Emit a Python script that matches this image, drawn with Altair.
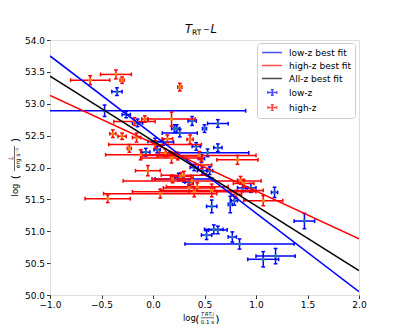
import altair as alt
import pandas as pd

# ---------------- data ----------------
low_x = [-0.47, -0.35, -0.26, -0.15, 0.02, -0.07, 0.04, 0.10, 0.21, 0.23, 0.26, 0.38, 0.50, 0.63,
         0.42, 0.53, 0.63, 0.25, 0.30, 0.35, 0.40, 0.48, 0.55, 0.57, 0.75, 0.79, 0.87, 0.95,
         1.18, 1.47, 0.52, 0.59, 0.63, 0.77, 0.84, 1.07, 1.19, 0.47]
low_y = [52.89, 53.19, 52.83, 52.70, 52.41, 52.24, 52.28, 52.40, 52.61, 52.61, 52.54, 52.73, 52.61, 52.69,
         52.33, 52.23, 52.31, 51.85, 51.82, 51.77, 52.00, 51.95, 51.95, 51.39, 51.42, 51.48, 51.68, 51.68,
         51.61, 51.16, 50.94, 51.03, 51.02, 50.91, 50.80, 50.56, 50.61, 52.14]
low_xerr = [1.37, 0.05, 0.04, 0.05, 0.07, 0.04, 0.03, 0.10, 0.03, 0.03, 0.17, 0.04, 0.02, 0.10,
            0.04, 0.40, 0.04, 0.04, 0.28, 0.04, 0.04, 0.05, 0.03, 0.05, 0.02, 0.03, 0.05, 0.05,
            0.03, 0.10, 0.05, 0.09, 0.09, 0.04, 0.53, 0.15, 0.19, 0.03]
low_yerr = [0.09, 0.06, 0.05, 0.06, 0.05, 0.06, 0.05, 0.05, 0.06, 0.06, 0.06, 0.07, 0.06, 0.06,
            0.06, 0.06, 0.06, 0.06, 0.05, 0.05, 0.05, 0.06, 0.06, 0.10, 0.13, 0.07, 0.06, 0.07,
            0.08, 0.12, 0.07, 0.07, 0.06, 0.08, 0.08, 0.12, 0.12, 0.06]

high_x = [-0.61, -0.36, -0.30, -0.39, -0.30, -0.23, -0.16, -0.18, -0.08, 0.18, 0.26, -0.12, -0.05, 0.18,
          0.14, 0.36, 0.45, 0.82, 0.07, -0.44, 0.19, 0.27, 0.38, 0.40, 0.47, 0.57, 0.81, 0.85,
          0.88, 1.07, 0.02, 0.12, 0.24, 0.35, 0.30, 0.43]
high_y = [53.37, 53.46, 53.37, 52.53, 52.49, 52.30, 52.47, 52.72, 52.76, 52.76, 53.26, 52.20, 51.95, 52.15,
          52.45, 52.44, 52.19, 52.12, 51.59, 51.51, 51.82, 51.86, 51.79, 51.62, 52.04, 51.64, 51.58, 51.80,
          51.75, 51.48, 52.36, 52.23, 52.18, 51.68, 51.88, 51.70]
high_xerr = [0.19, 0.15, 0.02, 0.03, 0.04, 0.02, 0.04, 0.20, 0.03, 0.23, 0.02, 0.34, 0.12, 0.30,
             0.05, 0.03, 0.55, 0.20, 0.55, 0.22, 0.20, 0.10, 0.67, 0.60, 0.10, 0.50, 0.05, 0.03,
             0.10, 0.19, 0.45, 0.06, 0.20, 0.25, 0.22, 0.30]
high_yerr = [0.07, 0.07, 0.05, 0.06, 0.05, 0.06, 0.07, 0.06, 0.05, 0.11, 0.06, 0.08, 0.08, 0.08,
             0.06, 0.07, 0.06, 0.07, 0.07, 0.06, 0.06, 0.06, 0.06, 0.08, 0.06, 0.10, 0.06, 0.06,
             0.06, 0.08, 0.06, 0.06, 0.06, 0.06, 0.06, 0.06]

fit_names = ["low-z best fit", "high-z best fit", "All-z best fit"]
fit_slope = [-1.233, -0.750, -1.017]
fit_icept = [52.517, 52.380, 52.417]
fit_colors = ["#0000ff", "#ff0000", "#000000"]

legend_labels = fit_names + ["low-z", "high-z"]
legend_colors = fit_colors + ["#0000ff", "#ff0000"]

x_range = [-1.0, 2.0]
y_range = [50.0, 54.0]
x_ticks = [-1.0, -0.5, 0.0, 0.5, 1.0, 1.5, 2.0]
y_ticks = [50.0, 50.5, 51.0, 51.5, 52.0, 52.5, 53.0, 53.5, 54.0]

# ---------------- helpers ----------------
FONT = "DejaVu Sans"
W, H = 309, 255


def err_df(xs, ys, xe, ye):
    return pd.DataFrame({
        "x": xs, "y": ys,
        "xlo": [a - b for a, b in zip(xs, xe)], "xhi": [a + b for a, b in zip(xs, xe)],
        "ylo": [a - b for a, b in zip(ys, ye)], "yhi": [a + b for a, b in zip(ys, ye)],
    })


low_df = err_df(low_x, low_y, low_xerr, low_yerr)
high_df = err_df(high_x, high_y, high_xerr, high_yerr)

fit_rows = []
for n, s, b in zip(fit_names, fit_slope, fit_icept):
    for xv in x_range:
        fit_rows.append({"label": n, "x": xv, "y": s * xv + b})
fit_df = pd.DataFrame(fit_rows)

xscale = alt.Scale(domain=x_range, nice=False, zero=False)
yscale = alt.Scale(domain=y_range, nice=False, zero=False)
xaxis = alt.Axis(values=x_ticks, format=".1f", title=None, grid=False, domain=False,
                 tickSize=3.5, tickColor="black", tickWidth=0.8, labelFontSize=9, labelFont=FONT,
                 labelColor="black", labelPadding=2, labelFlush=False)
yaxis = alt.Axis(values=y_ticks, format=".1f", title=None, grid=False, domain=False,
                 tickSize=3.5, tickColor="black", tickWidth=0.8, labelFontSize=9, labelFont=FONT,
                 labelColor="black", labelPadding=2)


def X(f):
    return alt.X(f, type="quantitative", scale=xscale, axis=xaxis)


def Y(f):
    return alt.Y(f, type="quantitative", scale=yscale, axis=yaxis)


VCAP = "M0,-1V1"
HCAP = "M-1,0H1"


def errorbar_layers(df, ecolor, mcolor):
    base = alt.Chart(df)
    xbar = base.mark_rule(color=ecolor, strokeWidth=1.5, clip=True).encode(
        x=X("xlo"), x2="xhi", y=Y("y"))
    ybar = base.mark_rule(color=ecolor, strokeWidth=1.5, clip=True).encode(
        x=X("x"), y=Y("ylo"), y2="yhi")
    xcap = base.transform_fold(["xlo", "xhi"], as_=["k", "xc"]).mark_point(
        shape=VCAP, size=14, filled=False, color=ecolor, strokeWidth=1.5, opacity=1, clip=True
    ).encode(x=X("xc"), y=Y("y"))
    ycap = base.transform_fold(["ylo", "yhi"], as_=["k", "yc"]).mark_point(
        shape=HCAP, size=14, filled=False, color=ecolor, strokeWidth=1.5, opacity=1, clip=True
    ).encode(x=X("x"), y=Y("yc"))
    mark = base.mark_circle(color=mcolor, size=13, opacity=1, clip=True).encode(
        x=X("x"), y=Y("y"))
    return [xbar, ybar, xcap, ycap, mark]


lines = alt.Chart(fit_df).mark_line(strokeWidth=1.5, clip=True).encode(
    x=X("x"), y=Y("y"),
    stroke=alt.Stroke("label:N", scale=alt.Scale(domain=fit_names, range=fit_colors), legend=None),
)

# legend carrier (rows have no coordinates, so nothing is drawn)
LINE_SYM = "M-1,0H3.44"
ERR_SYM = ("M0.29,0H2.29M1.29,-0.62V0.62M0.29,-0.3V0.3M2.29,-0.3V0.3"
           "M0.96,-0.62H1.62M0.96,0.62H1.62")
leg = alt.Legend(title=None, orient="none", legendX=207, legendY=3, padding=4,
                 rowPadding=2, symbolSize=81, symbolStrokeWidth=1.5, labelFontSize=9,
                 labelFont=FONT, labelColor="black", labelOffset=17, strokeColor="#cccccc",
                 fillColor="rgba(255,255,255,0.85)", cornerRadius=3, labelLimit=200)
legend_df = pd.DataFrame({"label": legend_labels, "xv": [None] * 5, "yv": [None] * 5})
legend_layer = alt.Chart(legend_df).mark_point(filled=False, strokeWidth=1.5).encode(
    x=X("xv"), y=Y("yv"),
    color=alt.Color("label:N", scale=alt.Scale(domain=legend_labels, range=legend_colors),
                    legend=leg),
    shape=alt.Shape("label:N", scale=alt.Scale(domain=legend_labels,
                                               range=[LINE_SYM] * 3 + [ERR_SYM] * 2),
                    legend=leg),
)

one = pd.DataFrame({"d": [0]})


def txt(t, x, y, size, style="normal", angle=0, align="left"):
    return alt.Chart(one).mark_text(text=t, font=FONT, fontSize=size, fontStyle=style,
                                    angle=angle, align=align, baseline="alphabetic",
                                    color="black").encode(x=alt.value(x), y=alt.value(y))


def hrule(x1, x2, y):
    return alt.Chart(one).mark_rule(color="black", strokeWidth=0.6).encode(
        x=alt.value(x1), x2=alt.value(x2), y=alt.value(y))


def vrule(x, y1, y2):
    return alt.Chart(one).mark_rule(color="black", strokeWidth=0.6).encode(
        x=alt.value(x), y=alt.value(y1), y2=alt.value(y2))


annot = [
    # title  T_RT - L
    txt("T", 135, -7, 11.5, "italic"),
    txt("RT", 142, -5, 7.5),
    txt("\u2212", 153, -8, 8),
    txt("L", 160.5, -7, 11.5, "italic"),
    # x title  log(T_RT,i / 0.1 s)
    txt("log", 133, 281, 8.5),
    txt("(", 147.5, 282.5, 11, align="center"),
    txt("T\u2009RT,i", 157.5, 276, 5, "italic", align="center"),
    hrule(151, 164, 277.8),
    txt("0.1 s", 157.5, 283.5, 5.5, align="center"),
    txt(")", 167.5, 282.5, 11, align="center"),
    # y title  log(L / erg s^-1)
    txt("log", -32, 150, 8.5, angle=270, align="center"),
    txt("(", -31, 137, 11, angle=270, align="center"),
    txt("L", -37, 118, 6, "italic", angle=270, align="center"),
    vrule(-35.5, 106, 131),
    txt("erg s\u207b\u00b9", -30, 118, 6, angle=270, align="center"),
    txt(")", -31, 100, 11, angle=270, align="center"),
]

layers = (errorbar_layers(low_df, "#0000ff", "#1f77b4")
          + errorbar_layers(high_df, "#ff0000", "#ff7f0e")
          + [lines, legend_layer] + annot)

chart = alt.layer(*layers).properties(
    width=W, height=H,
    autosize=alt.AutoSizeParams(type="none"),
    padding={"left": 42, "top": 32, "right": 32, "bottom": 29},
).configure_view(stroke="black", strokeWidth=0.8).configure(background="white")

chart.save("out.html", embed_options={"renderer": "svg", "actions": False})
